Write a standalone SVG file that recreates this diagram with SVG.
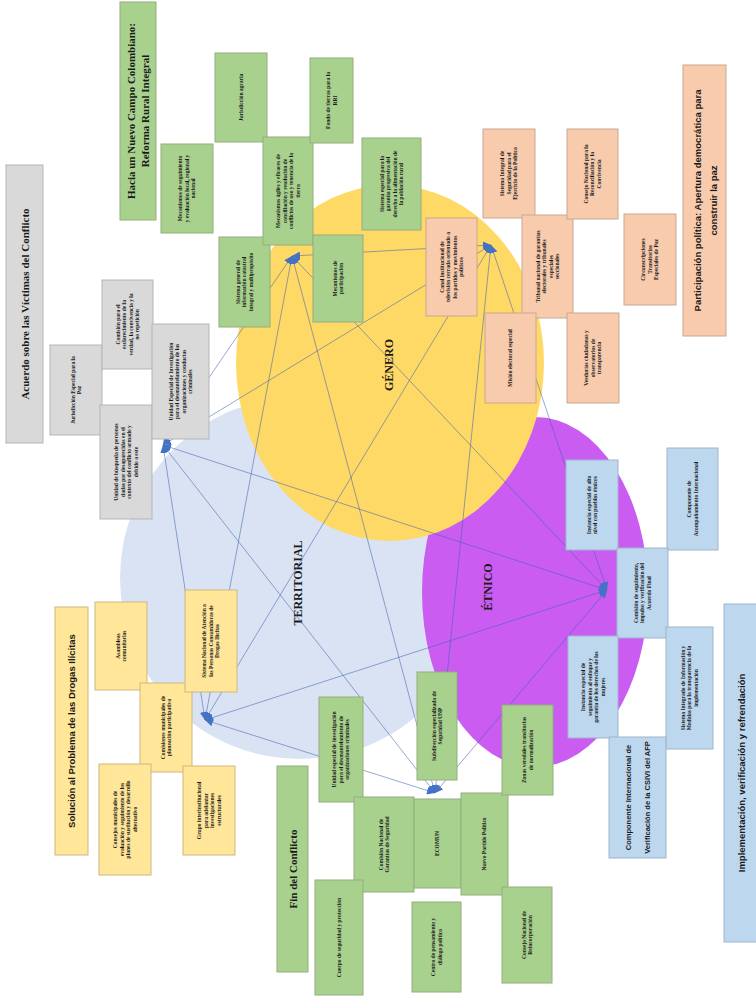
<svg xmlns="http://www.w3.org/2000/svg" width="756" height="1006" viewBox="0 0 756 1006">
<style>
.g{fill:#A9D18E;stroke:#93AE7C;stroke-width:1}
.o{fill:#F8CBAD;stroke:#C9A891;stroke-width:1}
.gr{fill:#D9D9D9;stroke:#B5B5B5;stroke-width:1}
.y{fill:#FFE699;stroke:#CDB87E;stroke-width:1}
.b{fill:#BDD7EE;stroke:#9FB5C9;stroke-width:1}
text{fill:#1a1a1a;text-anchor:middle}
.s{font-family:"Liberation Serif",serif;font-weight:bold;font-size:5.5px}
.ts{font-family:"Liberation Serif",serif;font-weight:bold;font-size:11px}
.tn{font-family:"Liberation Sans",sans-serif;font-weight:bold;font-size:9.5px}
.lab{font-family:"Liberation Serif",serif;font-weight:bold;font-size:12px}
.c{stroke:#3F62B0;stroke-opacity:0.55;stroke-width:1;fill:none;marker-start:url(#ah);marker-end:url(#ah)}
</style>
<defs>
<marker id="ah" markerUnits="userSpaceOnUse" markerWidth="9" markerHeight="8" refX="8" refY="4" orient="auto-start-reverse">
<path d="M0,0 L8,4 L0,8 z" fill="#4472C4"/>
</marker>
</defs>
<rect width="756" height="1006" fill="#fff"/>
<g id="circles">
<ellipse cx="300" cy="578" rx="180" ry="181" fill="#DAE3F3"/>
<ellipse cx="535" cy="592" rx="113" ry="175" fill="#CB5CF1"/>
<ellipse cx="390" cy="363" rx="154" ry="178" fill="#FFD966"/>
<text class="lab" transform="translate(393,365) rotate(-90)">GÉNERO</text>
<text class="lab" transform="translate(302,583) rotate(-90)">TERRITORIAL</text>
<text class="lab" transform="translate(492,587) rotate(-90)">ÉTNICO</text>
</g>
<g id="connectors">
<line class="c" x1="292" y1="256" x2="491" y2="245"/>
<line class="c" x1="292" y1="256" x2="163" y2="445"/>
<line class="c" x1="292" y1="256" x2="607" y2="590"/>
<line class="c" x1="292" y1="256" x2="205" y2="720"/>
<line class="c" x1="292" y1="256" x2="435" y2="793"/>
<line class="c" x1="491" y1="245" x2="163" y2="445"/>
<line class="c" x1="491" y1="245" x2="607" y2="590"/>
<line class="c" x1="491" y1="245" x2="205" y2="720"/>
<line class="c" x1="491" y1="245" x2="435" y2="793"/>
<line class="c" x1="163" y1="445" x2="607" y2="590"/>
<line class="c" x1="163" y1="445" x2="205" y2="720"/>
<line class="c" x1="163" y1="445" x2="435" y2="793"/>
<line class="c" x1="607" y1="590" x2="205" y2="720"/>
<line class="c" x1="607" y1="590" x2="435" y2="793"/>
<line class="c" x1="205" y1="720" x2="435" y2="793"/>
</g>
<g id="rri-title"><rect class="g" x="120" y="2" width="36" height="218"/><text class="ts" transform="translate(138,111) rotate(-90)"><tspan x="0" y="-3">Hacia un Nuevo Campo Colombiano:</tspan><tspan x="0" y="11">Reforma Rural Integral</tspan></text></g>
<g id="n-seguimiento"><rect class="g" x="161" y="144" width="52" height="89"/><text class="s" transform="translate(187,188.5) rotate(-90)"><tspan x="0" y="-4.6">Mecanismos de seguimiento</tspan><tspan x="0" y="1.9">y evaluación local, regional y</tspan><tspan x="0" y="8.4">nacional</tspan></text></g>
<g id="n-jurisdiccion-agraria"><rect class="g" x="215" y="53" width="52" height="89"/><text class="s" transform="translate(241,97.5) rotate(-90)"><tspan x="0" y="1.9">Jurisdicción agraria</tspan></text></g>
<g id="n-catastro"><rect class="g" x="219" y="237" width="51" height="90"/><text class="s" transform="translate(244.5,282) rotate(-90)"><tspan x="0" y="-4.6">Sistema general de</tspan><tspan x="0" y="1.9">información catastral</tspan><tspan x="0" y="8.4">integral y multipropósito</tspan></text></g>
<g id="n-conciliacion"><rect class="g" x="263" y="137" width="50" height="108"/><text class="s" transform="translate(288,191) rotate(-90)"><tspan x="0" y="-7.85">Mecanismos ágiles y eficaces de</tspan><tspan x="0" y="-1.35">conciliación y resolución de</tspan><tspan x="0" y="5.15">conflictos de uso y tenencia de la</tspan><tspan x="0" y="11.65">tierra</tspan></text></g>
<g id="n-fondo"><rect class="g" x="310" y="58" width="43" height="85"/><text class="s" transform="translate(331.5,100.5) rotate(-90)"><tspan x="0" y="-1.35">Fondo de tierras para la</tspan><tspan x="0" y="5.15">RRI</tspan></text></g>
<g id="n-participacion"><rect class="g" x="313" y="235" width="50" height="87"/><text class="s" transform="translate(338,278.5) rotate(-90)"><tspan x="0" y="-1.35">Mecanismos de</tspan><tspan x="0" y="5.15">participación</tspan></text></g>
<g id="n-alimentacion"><rect class="g" x="362" y="138" width="59" height="92"/><text class="s" transform="translate(391.5,184) rotate(-90)"><tspan x="0" y="-7.85">Sistema especial para la</tspan><tspan x="0" y="-1.35">garantía progresiva del</tspan><tspan x="0" y="5.15">derecho a la alimentación de</tspan><tspan x="0" y="11.65">la población rural</tspan></text></g>
<g id="pp-title"><rect class="o" x="683" y="65" width="43" height="271"/><text class="tn" transform="translate(704.5,200.5) rotate(-90)"><tspan x="0" y="-4">Participación política: Apertura democrática para</tspan><tspan x="0" y="12">construir la paz</tspan></text></g>
<g id="n-canal"><rect class="o" x="426" y="218" width="51" height="98"/><text class="s" transform="translate(451.5,267) rotate(-90)"><tspan x="0" y="-7.85">Canal institucional de</tspan><tspan x="0" y="-1.35">televisión cerrada orientado a</tspan><tspan x="0" y="5.15">los partidos y movimientos</tspan><tspan x="0" y="11.65">políticos</tspan></text></g>
<g id="n-seguridad-politica"><rect class="o" x="483" y="129" width="52" height="89"/><text class="s" transform="translate(509,173.5) rotate(-90)"><tspan x="0" y="-4.6">Sistema Integral de</tspan><tspan x="0" y="1.9">Seguridad para el</tspan><tspan x="0" y="8.4">Ejercicio de la Política</tspan></text></g>
<g id="n-tribunal"><rect class="o" x="522" y="215" width="51" height="103"/><text class="s" transform="translate(547.5,266.5) rotate(-90)"><tspan x="0" y="-7.85">Tribunal nacional de garantías</tspan><tspan x="0" y="-1.35">electorales y tribunales</tspan><tspan x="0" y="5.15">especiales</tspan><tspan x="0" y="11.65">seccionales</tspan></text></g>
<g id="n-consejo-reconciliacion"><rect class="o" x="567" y="129" width="51" height="90"/><text class="s" transform="translate(592.5,174) rotate(-90)"><tspan x="0" y="-4.6">Consejo Nacional para la</tspan><tspan x="0" y="1.9">Reconciliación y la</tspan><tspan x="0" y="8.4">Convivencia</tspan></text></g>
<g id="n-mision"><rect class="o" x="485" y="313" width="51" height="90"/><text class="s" transform="translate(510.5,358) rotate(-90)"><tspan x="0" y="1.9">Misión electoral especial</tspan></text></g>
<g id="n-veedurias"><rect class="o" x="567" y="313" width="52" height="90"/><text class="s" transform="translate(593,358) rotate(-90)"><tspan x="0" y="-4.6">Veedurías ciudadanas y</tspan><tspan x="0" y="1.9">observatorios de</tspan><tspan x="0" y="8.4">transparencia</tspan></text></g>
<g id="n-circunscripciones"><rect class="o" x="624" y="214" width="52" height="91"/><text class="s" transform="translate(650,259.5) rotate(-90)"><tspan x="0" y="-4.6">Circunscripciones</tspan><tspan x="0" y="1.9">Transitorias</tspan><tspan x="0" y="8.4">Especiales de Paz</tspan></text></g>
<g id="vic-title"><rect class="gr" x="6" y="165" width="37" height="278"/><text class="ts" transform="translate(24.5,304) rotate(-90)"><tspan x="0" y="4">Acuerdo sobre las Víctimas del Conflicto</tspan></text></g>
<g id="n-jep"><rect class="gr" x="50" y="345" width="52" height="90"/><text class="s" transform="translate(76,390) rotate(-90)"><tspan x="0" y="-1.35">Jurisdicción Especial para la</tspan><tspan x="0" y="5.15">Paz</tspan></text></g>
<g id="n-comision-verdad"><rect class="gr" x="102" y="280" width="51" height="89"/><text class="s" transform="translate(127.5,324.5) rotate(-90)"><tspan x="0" y="-7.85">Comisión para el</tspan><tspan x="0" y="-1.35">esclarecimiento de la</tspan><tspan x="0" y="5.15">verdad, la convivencia y la</tspan><tspan x="0" y="11.65">no repetición</tspan></text></g>
<g id="n-ubpd"><rect class="gr" x="100" y="405" width="52" height="114"/><text class="s" transform="translate(126,462) rotate(-90)"><tspan x="0" y="-7.85">Unidad de búsqueda de personas</tspan><tspan x="0" y="-1.35">dadas por desaparecidas en el</tspan><tspan x="0" y="5.15">contexto del conflicto armado y</tspan><tspan x="0" y="11.65">debido a este</tspan></text></g>
<g id="n-unidad-especial"><rect class="gr" x="152" y="324" width="57" height="115"/><text class="s" transform="translate(180.5,381.5) rotate(-90)"><tspan x="0" y="-7.85">Unidad Especial de Investigación</tspan><tspan x="0" y="-1.35">para el desmantelamiento de las</tspan><tspan x="0" y="5.15">organizaciones y conductas</tspan><tspan x="0" y="11.65">criminales</tspan></text></g>
<g id="drogas-title"><rect class="y" x="55" y="607" width="33" height="248"/><text class="tn" transform="translate(71.5,731) rotate(-90)"><tspan x="0" y="3.5">Solución al Problema de las Drogas Ilícitas</tspan></text></g>
<g id="n-asambleas"><rect class="y" x="95" y="602" width="52" height="88"/><text class="s" transform="translate(121,646) rotate(-90)"><tspan x="0" y="-1.35">Asambleas</tspan><tspan x="0" y="5.15">comunitarias</tspan></text></g>
<g id="n-comisiones-municipales"><rect class="y" x="140" y="683" width="52" height="89"/><text class="s" transform="translate(166,727.5) rotate(-90)"><tspan x="0" y="-1.35">Comisiones municipales de</tspan><tspan x="0" y="5.15">planeación participativa</tspan></text></g>
<g id="n-atencion"><rect class="y" x="185" y="590" width="52" height="102"/><text class="s" transform="translate(211,641) rotate(-90)"><tspan x="0" y="-4.6">Sistema Nacional de Atención a</tspan><tspan x="0" y="1.9">las Personas Consumidoras de</tspan><tspan x="0" y="8.4">Drogas Ilícitas</tspan></text></g>
<g id="n-consejos-municipales"><rect class="y" x="99" y="764" width="52" height="111"/><text class="s" transform="translate(125,819.5) rotate(-90)"><tspan x="0" y="-7.85">Consejos municipales de</tspan><tspan x="0" y="-1.35">evaluación y seguimiento de los</tspan><tspan x="0" y="5.15">planes de sustitución y desarrollo</tspan><tspan x="0" y="11.65">alternativo</tspan></text></g>
<g id="n-grupo"><rect class="y" x="183" y="766" width="52" height="89"/><text class="s" transform="translate(209,810.5) rotate(-90)"><tspan x="0" y="-7.85">Grupo interinstitucional</tspan><tspan x="0" y="-1.35">para adelantar</tspan><tspan x="0" y="5.15">investigaciones</tspan><tspan x="0" y="11.65">estructurales</tspan></text></g>
<g id="fin-title"><rect class="g" x="277" y="766" width="31" height="206"/><text class="ts" transform="translate(292.5,869) rotate(-90)"><tspan x="0" y="4">Fin del Conflicto</tspan></text></g>
<g id="n-unidad-investigacion"><rect class="g" x="319" y="697" width="44" height="105"/><text class="s" transform="translate(341,749.5) rotate(-90)"><tspan x="0" y="-4.6">Unidad especial de investigación</tspan><tspan x="0" y="1.9">para el desmantelamiento de</tspan><tspan x="0" y="8.4">organizaciones criminales</tspan></text></g>
<g id="n-subdireccion"><rect class="g" x="417" y="672" width="40" height="108"/><text class="s" transform="translate(437,726) rotate(-90)"><tspan x="0" y="-1.35">Subdirección especializada de</tspan><tspan x="0" y="5.15">Seguridad UNP</tspan></text></g>
<g id="n-cngs"><rect class="g" x="354" y="797" width="60" height="95"/><text class="s" transform="translate(384,844.5) rotate(-90)"><tspan x="0" y="-1.35">Comisión Nacional de</tspan><tspan x="0" y="5.15">Garantías de Seguridad</tspan></text></g>
<g id="n-ecomun"><rect class="g" x="414" y="799" width="47" height="89"/><text class="s" transform="translate(437.5,843.5) rotate(-90)"><tspan x="0" y="1.9">ECOMUN</tspan></text></g>
<g id="n-partido"><rect class="g" x="461" y="793" width="47" height="102"/><text class="s" transform="translate(484.5,844) rotate(-90)"><tspan x="0" y="1.9">Nuevo Partido Político</tspan></text></g>
<g id="n-cuerpo"><rect class="g" x="315" y="880" width="48" height="115"/><text class="s" transform="translate(339,937.5) rotate(-90)"><tspan x="0" y="1.9">Cuerpo de seguridad y protección</tspan></text></g>
<g id="n-centro"><rect class="g" x="412" y="902" width="49" height="90"/><text class="s" transform="translate(436.5,947) rotate(-90)"><tspan x="0" y="-1.35">Centro de pensamiento y</tspan><tspan x="0" y="5.15">diálogo político</tspan></text></g>
<g id="n-zonas"><rect class="g" x="502" y="705" width="51" height="90"/><text class="s" transform="translate(527.5,750) rotate(-90)"><tspan x="0" y="-1.35">Zonas veredales transitorias</tspan><tspan x="0" y="5.15">de normalización</tspan></text></g>
<g id="n-cnr"><rect class="g" x="502" y="887" width="50" height="96"/><text class="s" transform="translate(527,935) rotate(-90)"><tspan x="0" y="-1.35">Consejo Nacional de</tspan><tspan x="0" y="5.15">Reincorporación</tspan></text></g>
<g id="imp-title"><rect class="b" x="724" y="604" width="34" height="338"/><text class="tn" transform="translate(741,773) rotate(-90)"><tspan x="0" y="3.5">Implementación, verificación y refrendación</tspan></text></g>
<g id="n-instancia-etnica"><rect class="b" x="566" y="460" width="52" height="90"/><text class="s" transform="translate(592,505) rotate(-90)"><tspan x="0" y="-1.35">Instancia especial de alto</tspan><tspan x="0" y="5.15">nivel con pueblos étnicos</tspan></text></g>
<g id="n-acompanamiento"><rect class="b" x="667" y="448" width="51" height="102"/><text class="s" transform="translate(692.5,499) rotate(-90)"><tspan x="0" y="-1.35">Componente de</tspan><tspan x="0" y="5.15">Acompañamiento Internacional</tspan></text></g>
<g id="n-csivi"><rect class="b" x="617" y="548" width="51" height="90"/><text class="s" transform="translate(642.5,593) rotate(-90)"><tspan x="0" y="-4.6">Comisión de seguimiento,</tspan><tspan x="0" y="1.9">impulso y verificación del</tspan><tspan x="0" y="8.4">Acuerdo Final</tspan></text></g>
<g id="n-instancia-genero"><rect class="b" x="568" y="636" width="50" height="102"/><text class="s" transform="translate(593,687) rotate(-90)"><tspan x="0" y="-7.85">Instancia especial de</tspan><tspan x="0" y="-1.35">seguimiento al enfoque y</tspan><tspan x="0" y="5.15">garantía de los derechos de las</tspan><tspan x="0" y="11.65">mujeres</tspan></text></g>
<g id="n-sistema-transparencia"><rect class="b" x="666" y="627" width="47" height="122"/><text class="s" transform="translate(689.5,688) rotate(-90)"><tspan x="0" y="-4.6">Sistema Integrado de Información y</tspan><tspan x="0" y="1.9">Medidas para la transparencia de la</tspan><tspan x="0" y="8.4">implementación</tspan></text></g>
<g id="n-componente-verificacion"><rect class="b" x="609" y="737" width="57" height="121"/><text class="tn" style="font-size:7.5px" transform="translate(637.5,797.5) rotate(-90)"><tspan x="0" y="-7">Componente Internacional de</tspan><tspan x="0" y="12">Verificación de la CSIVI del AFP</tspan></text></g>
</svg>
